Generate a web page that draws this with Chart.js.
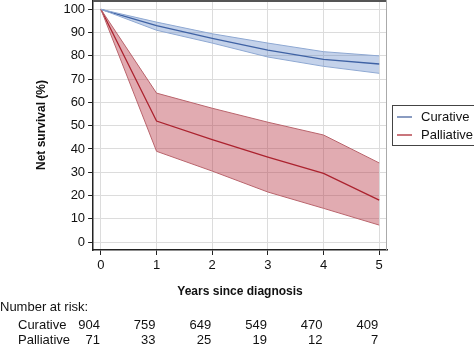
<!DOCTYPE html>
<html>
<head>
<meta charset="utf-8">
<script src="https://cdn.jsdelivr.net/npm/chart.js@4.4.1/dist/chart.umd.min.js"></script>
<style>
  body { margin: 0; background: #fff; }
  #wrap { width: 474px; height: 345px; }
</style>
</head>
<body>
<div id="wrap"><canvas id="chart"></canvas></div>
<script>
// Years since diagnosis
const years = [0, 1, 2, 3, 4, 5];

// Net survival (%) estimates and 95% CI
const curative = [100, 93, 87.5, 82.5, 78.5, 76.5];
const curativeLow = [100, 91, 85.5, 79.5, 75.5, 72.5];
const curativeHigh = [100, 94.5, 89.5, 85.5, 81.8, 80];

const palliative = [100, 52, 44, 36.5, 29.5, 18];
const palliativeLow = [100, 39, 30.5, 21.5, 14.5, 7.3];
const palliativeHigh = [100, 64, 57.5, 51.5, 46, 34];

// Number at risk table
const riskLabels = ["Curative", "Palliative"];
const riskCurative = [904, 759, 649, 549, 470, 409];
const riskPalliative = [71, 33, 25, 19, 12, 7];

const yTicks = [0, 10, 20, 30, 40, 50, 60, 70, 80, 90, 100];

const FONT = "Liberation Sans, Arial, sans-serif";
const BLUE = "#3b5a98";
const RED = "#a61c26";

function pts(arr) {
  return arr.map((v, i) => ({ x: years[i], y: v }));
}

// frame, legend box and number-at-risk table
const extras = {
  id: "extras",
  beforeDatasetsDraw(chart) {
    const { ctx, chartArea: a } = chart;
    ctx.save();
    ctx.strokeStyle = "#555";
    ctx.lineWidth = 2;
    ctx.beginPath();
    ctx.moveTo(a.left, a.top + 1);
    ctx.lineTo(a.right, a.top + 1);
    ctx.stroke();
    ctx.strokeStyle = "#aaa";
    ctx.lineWidth = 1;
    ctx.beginPath();
    ctx.moveTo(a.right - 0.5, a.top);
    ctx.lineTo(a.right - 0.5, a.bottom);
    ctx.stroke();
    ctx.restore();
  },
  afterDraw(chart) {
    const { ctx } = chart;
    const x = chart.scales.x;
    ctx.save();

    // legend
    ctx.strokeStyle = "#444";
    ctx.lineWidth = 1;
    ctx.strokeRect(392.5, 105.5, 90, 40);
    ctx.font = "13px " + FONT;
    ctx.textBaseline = "middle";
    const items = [["Curative", BLUE, 117], ["Palliative", RED, 135]];
    items.forEach(([txt, col, yy]) => {
      ctx.strokeStyle = col;
      ctx.lineWidth = 1.2;
      ctx.beginPath();
      ctx.moveTo(397, yy);
      ctx.lineTo(412, yy);
      ctx.stroke();
      ctx.fillStyle = "#111";
      ctx.textAlign = "left";
      ctx.fillText(txt, 421, yy + 0.5);
    });

    // number at risk
    ctx.fillStyle = "#111";
    ctx.textAlign = "left";
    ctx.fillText("Number at risk:", 0, 307);
    const rows = [riskCurative, riskPalliative];
    rows.forEach((row, r) => {
      const yy = 325 + r * 15;
      ctx.textAlign = "left";
      ctx.fillText(riskLabels[r], 18, yy);
      ctx.textAlign = "right";
      row.forEach((n, i) => {
        ctx.fillText(String(n), x.getPixelForValue(years[i]) - 1, yy);
      });
    });
    ctx.restore();
  }
};

new Chart(document.getElementById("chart"), {
  type: "line",
  data: {
    datasets: [
      { label: "curLow", data: pts(curativeLow), borderColor: "#8ea8d2", borderWidth: 1, pointRadius: 0, fill: false },
      { label: "curHigh", data: pts(curativeHigh), borderColor: "#8ea8d2", borderWidth: 1, pointRadius: 0,
        fill: "-1", backgroundColor: "rgba(70,115,190,0.32)" },
      { label: "palLow", data: pts(palliativeLow), borderColor: "#b9646c", borderWidth: 1, pointRadius: 0, fill: false },
      { label: "palHigh", data: pts(palliativeHigh), borderColor: "#b9646c", borderWidth: 1, pointRadius: 0,
        fill: "-1", backgroundColor: "rgba(180,45,60,0.4)" },
      { label: "Curative", data: pts(curative), borderColor: BLUE, borderWidth: 1.3, pointRadius: 0, fill: false },
      { label: "Palliative", data: pts(palliative), borderColor: RED, borderWidth: 1.3, pointRadius: 0, fill: false }
    ]
  },
  options: {
    responsive: true,
    maintainAspectRatio: false,
    animation: false,
    elements: { line: { tension: 0 } },
    layout: { autoPadding: false, padding: { left: 34, right: 87, top: 0, bottom: 46 } },
    plugins: { legend: { display: false }, tooltip: { enabled: false } },
    scales: {
      x: {
        type: "linear",
        min: -0.14,
        max: 5.14,
        afterBuildTicks: s => { s.ticks = years.map(v => ({ value: v })); },
        grid: { color: "#dcdcdc", tickColor: "#222", tickLength: 5 },
        border: { color: "#222", width: 1.5 },
        ticks: { color: "#111", font: { family: FONT, size: 13 }, padding: 3, maxRotation: 0 },
        title: { display: true, text: "Years since diagnosis", color: "#111",
          font: { family: FONT, size: 12, weight: "bold" }, padding: { top: 8, bottom: 0 } }
      },
      y: {
        min: -3.4,
        max: 104,
        afterBuildTicks: s => { s.ticks = yTicks.map(v => ({ value: v })); },
        // plot frame reaches the top edge, so drop the label overhang padding
        afterFit: s => { s.paddingTop = 0; s.paddingBottom = 0; },
        grid: { color: "#dcdcdc", tickColor: "#222", tickLength: 5 },
        border: { color: "#222", width: 1.5 },
        ticks: { color: "#111", font: { family: FONT, size: 13 }, padding: 3 },
        title: { display: true, text: "Net survival (%)", color: "#111",
          font: { family: FONT, size: 12, weight: "bold" }, padding: { top: 0, bottom: 12 } }
      }
    }
  },
  plugins: [extras]
});
</script>
</body>
</html>
